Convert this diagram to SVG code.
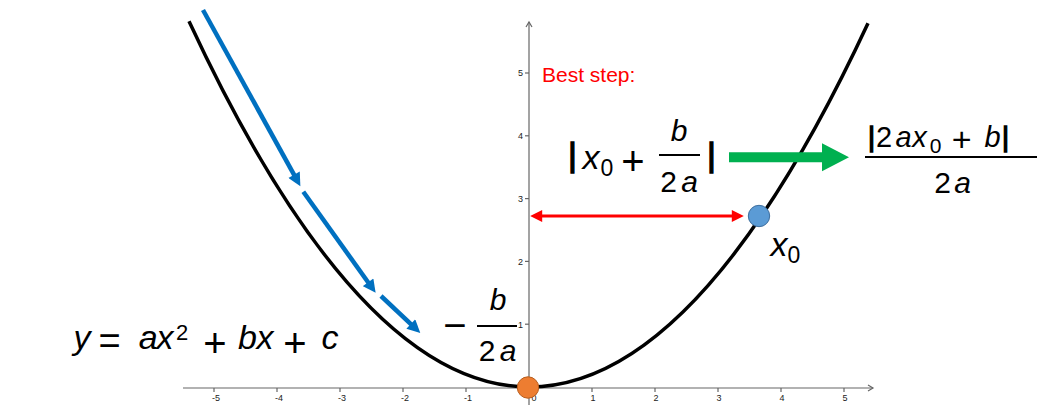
<svg xmlns="http://www.w3.org/2000/svg" width="1050" height="411" viewBox="0 0 1050 411">
<style>
.f{font-family:"Liberation Sans",Arial,Helvetica,sans-serif;fill:#000}
.i{font-style:italic}
.m{text-anchor:middle}
.t{font-family:"Liberation Sans",Arial,sans-serif;font-size:9px;fill:#222}
.ax{stroke:#666;stroke-width:1.2;fill:none}
.bar{stroke:#000;stroke-width:2}
.vb{stroke:#000;stroke-width:1.4}
</style>
<defs>
<marker id="hb" viewBox="0 0 10 10" markerUnits="userSpaceOnUse" markerWidth="14" markerHeight="13" refX="4" refY="5" orient="auto"><path d="M0,0 L10,5 L0,10 z" fill="#0070C0"/></marker>
<marker id="hr" viewBox="0 0 10 10" markerUnits="userSpaceOnUse" markerWidth="14" markerHeight="12" refX="4.3" refY="5" orient="auto-start-reverse"><path d="M0,0 L10,5 L0,10 z" fill="#FF0000"/></marker>
</defs>
<rect width="1050" height="411" fill="#fff"/>
<g id="axes">
<line class="ax" x1="183" y1="388" x2="873" y2="388"/>
<path class="ax" d="M868,385 L873,388 L868,391"/>
<line class="ax" x1="529" y1="22" x2="529" y2="405"/>
<path class="ax" d="M526,27 L529,22 L532,27"/>
<g class="ax">
<line x1="214" y1="388" x2="214" y2="392"/><line x1="277" y1="388" x2="277" y2="392"/><line x1="340" y1="388" x2="340" y2="392"/><line x1="403" y1="388" x2="403" y2="392"/><line x1="466" y1="388" x2="466" y2="392"/><line x1="592" y1="388" x2="592" y2="392"/><line x1="655" y1="388" x2="655" y2="392"/><line x1="718" y1="388" x2="718" y2="392"/><line x1="781" y1="388" x2="781" y2="392"/><line x1="844" y1="388" x2="844" y2="392"/>
<line x1="525" y1="324.2" x2="529" y2="324.2"/><line x1="525" y1="261.4" x2="529" y2="261.4"/><line x1="525" y1="198.6" x2="529" y2="198.6"/><line x1="525" y1="135.8" x2="529" y2="135.8"/><line x1="525" y1="73" x2="529" y2="73"/>
</g>
<g class="t" text-anchor="middle">
<text x="216" y="401">-5</text><text x="279" y="401">-4</text><text x="342" y="401">-3</text><text x="405" y="401">-2</text><text x="468" y="401">-1</text><text x="534" y="401">0</text><text x="593" y="401">1</text><text x="656" y="401">2</text><text x="719" y="401">3</text><text x="782" y="401">4</text><text x="845" y="401">5</text>
</g>
<g class="t" text-anchor="end">
<text x="523" y="327.5">1</text><text x="523" y="264.7">2</text><text x="523" y="201.9">3</text><text x="523" y="139.1">4</text><text x="523" y="76.3">5</text>
</g>
</g>
<g id="curve">
<path d="M189,21.2 Q528.5,751.7 868,23.3" fill="none" stroke="#000" stroke-width="3.5"/>
</g>
<g id="connectors">
<g stroke="#0070C0" stroke-width="4.5" fill="none" marker-end="url(#hb)">
<line x1="203" y1="10" x2="296.6" y2="179.3"/>
<line x1="303.3" y1="191.7" x2="371.1" y2="286.5"/>
<line x1="381" y1="296" x2="414.6" y2="327.6"/>
</g>
<line x1="537" y1="216" x2="737" y2="216" stroke="#FF0000" stroke-width="3" marker-start="url(#hr)" marker-end="url(#hr)"/>
<path d="M729,152.3 L822,152.3 L822,143.3 L849,157.3 L822,171.3 L822,162.3 L729,162.3 Z" fill="#00B050"/>
</g>
<g id="point-vertex">
<circle cx="528" cy="387.5" r="10.7" fill="#ED7D31" stroke="#B85E1E" stroke-width="1"/>
</g>
<g id="point-x0">
<circle cx="759" cy="216" r="10.7" fill="#5B9BD5" stroke="#3E6E9E" stroke-width="1"/>
</g>
<g id="label-best-step">
<text x="542" y="81.5" font-family="Liberation Sans,Arial,sans-serif" font-size="21" fill="#FF0000">Best step:</text>
</g>
<g id="label-formula" class="f m">
<text class="i" x="82" y="349" font-size="34">y</text>
<text x="109.7" y="354" font-size="38">=</text>
<text class="i" x="148.3" y="349" font-size="34">a</text>
<text class="i" x="165" y="349" font-size="34">x</text>
<text x="182" y="340" font-size="22">2</text>
<text x="215" y="357" font-size="40">+</text>
<text class="i" x="247.5" y="349" font-size="34">b</text>
<text class="i" x="265" y="349" font-size="34">x</text>
<text x="295" y="357" font-size="40">+</text>
<text class="i" x="330" y="349" font-size="34">c</text>
</g>
<g id="label-vertex" class="f m">
<text x="455" y="339" font-size="40">−</text>
<line class="bar" x1="477" y1="326" x2="517" y2="326"/>
<text class="i" x="498" y="310" font-size="30">b</text>
<text x="487" y="361" font-size="30">2</text>
<text class="i" x="508" y="361" font-size="30">a</text>
</g>
<g id="label-step" class="f m">
<text class="vb" x="572.5" y="166" font-size="34">|</text>
<text class="i" x="591" y="169" font-size="34">x</text>
<text x="607" y="176" font-size="23">0</text>
<text x="633" y="175" font-size="40">+</text>
<line class="bar" x1="659" y1="155" x2="700" y2="155"/>
<text class="i" x="679" y="141" font-size="30">b</text>
<text x="668.5" y="192" font-size="30">2</text>
<text class="i" x="689.5" y="192" font-size="30">a</text>
<text class="vb" x="711.5" y="166" font-size="34">|</text>
</g>
<g id="label-result" class="f m">
<text class="vb" x="871.5" y="146" font-size="27">|</text>
<text x="884" y="147" font-size="29">2</text>
<text class="i" x="903.5" y="147" font-size="29">a</text>
<text class="i" x="919.5" y="147" font-size="29">x</text>
<text x="935.5" y="153" font-size="21">0</text>
<text x="961.7" y="151" font-size="34">+</text>
<text class="i" x="992.5" y="147" font-size="29">b</text>
<text class="vb" x="1005.5" y="146" font-size="27">|</text>
<line class="bar" x1="865" y1="157" x2="1037" y2="157"/>
<text x="942.5" y="193" font-size="30">2</text>
<text class="i" x="962.5" y="193" font-size="30">a</text>
</g>
<g id="label-x0" class="f m">
<text class="i" x="779" y="256" font-size="34">x</text>
<text x="794" y="263" font-size="23">0</text>
</g>
</svg>
